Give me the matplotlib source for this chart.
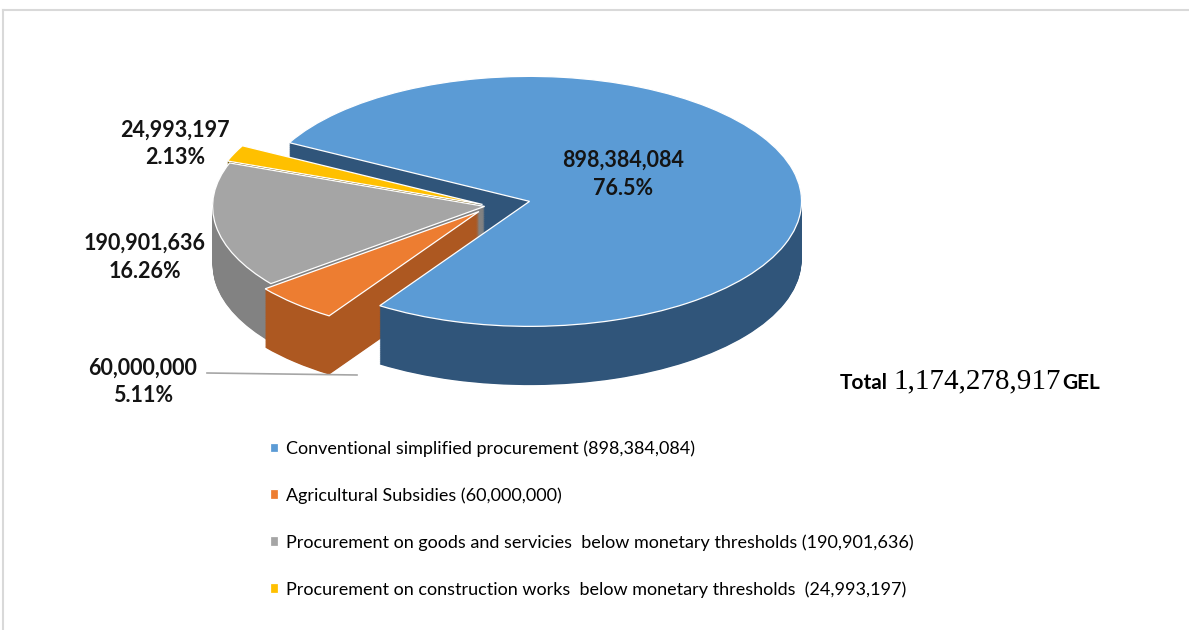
import numpy as np
import matplotlib.pyplot as plt
from matplotlib.lines import Line2D

# данные
categories = ['Conventional simplified procurement (898,384,084)',
              'Agricultural Subsidies (60,000,000)',
              'Procurement on goods and servicies  below monetary thresholds (190,901,636)',
              'Procurement on construction works  below monetary thresholds  (24,993,197)']
values = [898384084, 60000000, 190901636, 24993197]
value_labels = ['898,384,084', '60,000,000', '190,901,636', '24,993,197']
pct_labels = ['76.5%', '5.11%', '16.26%', '2.13%']

top_colors = ['#5b9bd5', '#ed7d31', '#a5a5a5', '#ffc000']
side_colors = ['#30557a', '#ad5821', '#828282', '#6e5300']
explode = [0.15, 0.06, 0.02, 0.03]

W, H = 1189, 630
cx, cy, rx, ry = 490, 206, 272, 125     # центр і півосі еліпса в пікселях
depth = 0.47                             # товщина "3D" пирога


def px(x, y):
    return x / W, 1 - y / H


fig = plt.figure(figsize=(W / 100, H / 100), dpi=100)
ax = fig.add_axes([0, 0, 1, 1])

# бокова стінка - шари пирога зверху вниз
for d in np.linspace(depth, 0.005, 90):
    ax.pie(values, explode=explode, startangle=152, counterclock=False,
           center=(0, -d), colors=side_colors,
           wedgeprops=dict(linewidth=0, antialiased=True))

# верхня грань
wedges, _ = ax.pie(values, explode=explode, startangle=152, counterclock=False,
                   colors=top_colors,
                   wedgeprops=dict(edgecolor='white', linewidth=0.9))

ax.set_aspect('auto')
ax.set_xlim((0 - cx) / rx, (W - cx) / rx)
ax.set_ylim((cy - H) / ry, cy / ry)
ax.axis('off')

# підписи
lab_pos = [(623, 160), (143, 368), (145, 243), (175, 130)]
for (x, y), v, p in zip(lab_pos, value_labels, pct_labels):
    fig.text(*px(x, y), v, ha='center', va='center', fontsize=15.5,
             fontweight='bold', family='Lato', color='#141414')
    fig.text(*px(x, y + 28), p, ha='center', va='center', fontsize=15.5,
             fontweight='bold', family='Lato', color='#141414')

fig.add_artist(Line2D([207 / W, 357 / W], [1 - 373 / H, 1 - 375 / H],
                      color='#a6a6a6', linewidth=1.2))

# загальна сума
fig.text(*px(840, 383), 'Total', ha='left', va='center', fontsize=15,
         fontweight='bold', family='Lato')
fig.text(*px(893, 381), '1,174,278,917', ha='left', va='center', fontsize=21,
         family='Liberation Serif')
fig.text(*px(1062, 383), 'GEL', ha='left', va='center', fontsize=15,
         fontweight='bold', family='Lato')

# легенда
fig.legend(wedges, categories, loc='upper left', bbox_to_anchor=px(254, 424),
           frameon=False, handlelength=0.45, handleheight=0.45, handletextpad=0.4,
           labelspacing=1.68, prop=dict(family='Lato', size=13))

# рамка
fig.add_artist(Line2D([3 / W, 1], [1 - 10 / H, 1 - 10 / H], color='#d9d9d9', linewidth=1.5))
fig.add_artist(Line2D([3 / W, 3 / W], [0, 1 - 10 / H], color='#d9d9d9', linewidth=1.5))

fig.savefig('out.png', dpi=100)
